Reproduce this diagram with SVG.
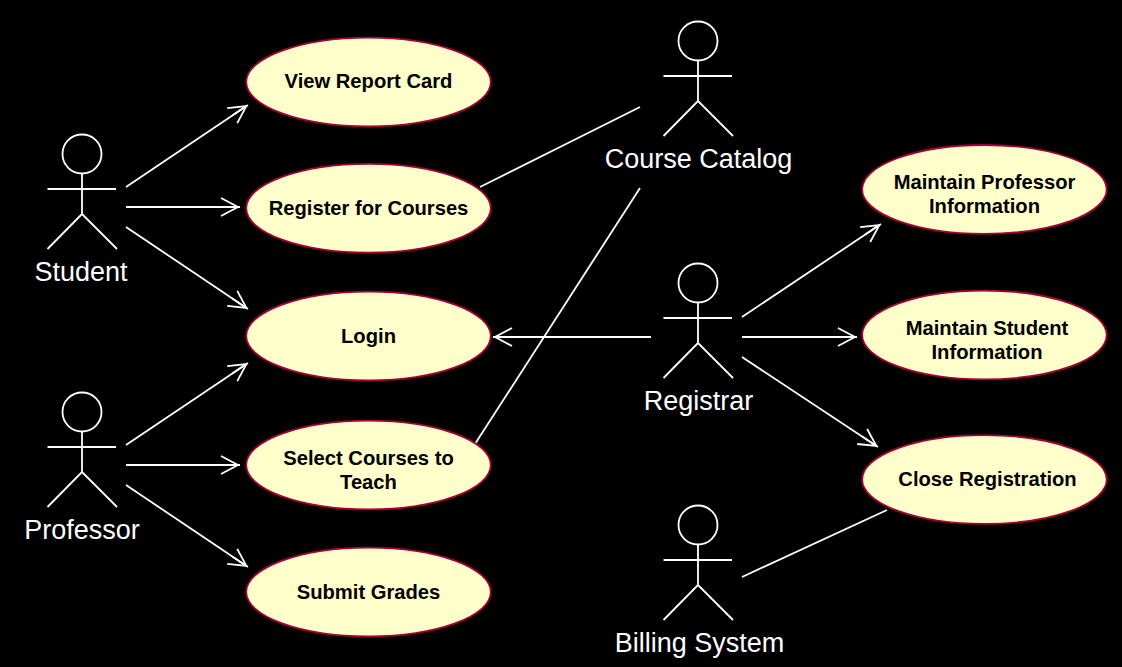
<svg xmlns="http://www.w3.org/2000/svg" width="1122" height="667" viewBox="0 0 1122 667">
<style>
.uc{fill:#ffffcc;stroke:#a80036;stroke-width:1.800}
.a{fill:none;stroke:#fff;stroke-width:1.800}
.t{font-family:"Liberation Sans",Arial,sans-serif;font-size:20.2px;font-weight:700;fill:#000;text-anchor:middle}
.l{font-family:"Liberation Sans",Arial,sans-serif;font-size:27px;fill:#fff;text-anchor:middle}
</style>
<defs>
<g id="stick"><circle cx="0" cy="20" r="19.500" class="a"/><path class="a" d="M0 39.500V80M-34.500 55H34M0 80L-34.500 115M0 80L35 115"/></g>
<marker id="arr" viewBox="0 0 26 24" refX="23" refY="12" markerWidth="26" markerHeight="24" markerUnits="userSpaceOnUse" orient="auto"><path d="M4 3L21 12L4 21M4 12H21" fill="none" stroke="#fff" stroke-width="1.800"/></marker>
</defs>
<rect width="1122" height="667" fill="#000"/>
<g id="connectors">
<path class="a" marker-end="url(#arr)" d="M126 187L248 105"/>
<path class="a" marker-end="url(#arr)" d="M126 207H240"/>
<path class="a" marker-end="url(#arr)" d="M126 227L248 309"/>
<path class="a" marker-end="url(#arr)" d="M126 445L248 363"/>
<path class="a" marker-end="url(#arr)" d="M126 465H240"/>
<path class="a" marker-end="url(#arr)" d="M126 485L248 567"/>
<path class="a" d="M480 187L640 107"/>
<path class="a" d="M475 444L640 188"/>
<path class="a" marker-end="url(#arr)" d="M651 337H493"/>
<path class="a" marker-end="url(#arr)" d="M742 317L881 224"/>
<path class="a" marker-end="url(#arr)" d="M742 337H857"/>
<path class="a" marker-end="url(#arr)" d="M742 357L878 447"/>
<path class="a" d="M742 577L887 510"/>
</g>
<g id="student"><use href="#stick" x="82" y="134"/><text class="l" x="81" y="281">Student</text></g>
<g id="professor"><use href="#stick" x="82" y="392"/><text class="l" x="82" y="539">Professor</text></g>
<g id="catalog"><use href="#stick" x="698" y="21"/><text class="l" x="698.500" y="168">Course Catalog</text></g>
<g id="registrar"><use href="#stick" x="698" y="263"/><text class="l" x="698.500" y="410">Registrar</text></g>
<g id="billing"><use href="#stick" x="698" y="505"/><text class="l" x="699.500" y="652">Billing System</text></g>
<g id="uc1"><ellipse class="uc" cx="368.500" cy="82" rx="122.300" ry="44.400"/><text class="t" x="368.500" y="88">View Report Card</text></g>
<g id="uc2"><ellipse class="uc" cx="368.500" cy="208.300" rx="122.300" ry="44.400"/><text class="t" x="368.500" y="215">Register for Courses</text></g>
<g id="uc3"><ellipse class="uc" cx="368.500" cy="336" rx="122.300" ry="44.400"/><text class="t" x="368.500" y="343">Login</text></g>
<g id="uc4"><ellipse class="uc" cx="368.500" cy="465" rx="122.300" ry="44.400"/><text class="t" x="368.500" y="465">Select Courses to</text><text class="t" x="368.500" y="489">Teach</text></g>
<g id="uc5"><ellipse class="uc" cx="368.500" cy="592" rx="122.300" ry="44.400"/><text class="t" x="368.500" y="599">Submit Grades</text></g>
<g id="uc6"><ellipse class="uc" cx="984.400" cy="189.400" rx="122.300" ry="44.400"/><text class="t" x="984.500" y="189">Maintain Professor</text><text class="t" x="984.500" y="213">Information</text></g>
<g id="uc7"><ellipse class="uc" cx="984.400" cy="335" rx="122.300" ry="44.400"/><text class="t" x="987" y="335">Maintain Student</text><text class="t" x="987" y="359">Information</text></g>
<g id="uc8"><ellipse class="uc" cx="984.400" cy="479.500" rx="122.300" ry="44.400"/><text class="t" x="987.500" y="486">Close Registration</text></g>
</svg>
